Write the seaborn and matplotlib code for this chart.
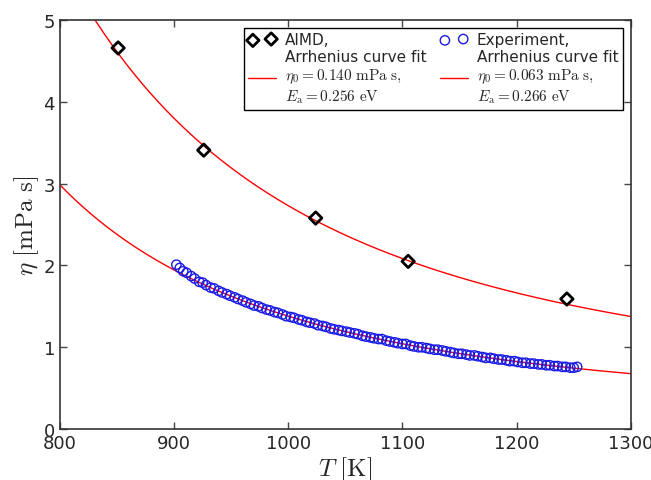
import numpy as np
import matplotlib
matplotlib.use("Agg")
import matplotlib.pyplot as plt
import seaborn as sns

# --- Data ---
aimd_T = [851, 926, 1024, 1105, 1244]
aimd_eta = [4.66, 3.41, 2.58, 2.05, 1.59]

exp_T = [902, 905, 908, 911, 915, 918, 922, 925, 928, 932, 935, 939, 942, 946, 949,
         953, 956, 960, 963, 967, 970, 974, 977, 981, 984, 988, 991, 995, 998,
         1002, 1005, 1009, 1012, 1016, 1019, 1023, 1026, 1030, 1033, 1037, 1040, 1044, 1047,
         1051, 1054, 1058, 1061, 1065, 1068, 1072, 1075, 1079, 1082, 1086, 1089, 1093, 1096,
         1100, 1103, 1107, 1110, 1114, 1117, 1121, 1124, 1128, 1131, 1135, 1138, 1142, 1145, 1149,
         1152, 1156, 1159, 1163, 1166, 1170, 1173, 1177, 1180, 1184, 1187, 1191, 1194, 1198,
         1201, 1205, 1208, 1212, 1215, 1219, 1222, 1226, 1229, 1233, 1236, 1240, 1243, 1247,
         1250, 1253]
exp_eta = [2.01, 1.97, 1.93, 1.91, 1.87, 1.84, 1.80, 1.79, 1.76, 1.73, 1.72, 1.69, 1.67, 1.65, 1.63,
           1.61, 1.59, 1.57, 1.55, 1.53, 1.51, 1.50, 1.48, 1.46, 1.45, 1.43, 1.42, 1.40, 1.38,
           1.37, 1.36, 1.34, 1.33, 1.31, 1.30, 1.29, 1.27, 1.26, 1.25, 1.23, 1.22, 1.21, 1.20,
           1.19, 1.18, 1.17, 1.16, 1.14, 1.13, 1.12, 1.11, 1.10, 1.10, 1.08, 1.07, 1.06, 1.05,
           1.04, 1.04, 1.02, 1.01, 1.00, 1.00, 0.99, 0.98, 0.97, 0.97, 0.96, 0.95, 0.94, 0.93, 0.92,
           0.92, 0.91, 0.90, 0.90, 0.89, 0.88, 0.87, 0.87, 0.86, 0.85, 0.85, 0.84, 0.83, 0.83,
           0.82, 0.81, 0.81, 0.80, 0.80, 0.79, 0.79, 0.78, 0.78, 0.77, 0.77, 0.76, 0.76, 0.75,
           0.75, 0.76]

# Arrhenius fit parameters (eta0 in mPa s, Ea in eV)
aimd_eta0, aimd_Ea = 0.140, 0.256
exp_eta0, exp_Ea = 0.063, 0.266
kB = 8.617e-5

T_grid = np.linspace(800, 1300, 300)
aimd_fit = aimd_eta0 * np.exp(aimd_Ea / (kB * T_grid))
exp_fit = exp_eta0 * np.exp(exp_Ea / (kB * T_grid))

aimd_label = "AIMD,"
aimd_fit_label = ("Arrhenius curve fit\n" + r"$\eta_0=0.140\ \mathrm{mPa\ s},$" + "\n"
                  + r"$E_\mathrm{a}=0.256\ \mathrm{eV}$")
exp_label = "Experiment,"
exp_fit_label = ("Arrhenius curve fit\n" + r"$\eta_0=0.063\ \mathrm{mPa\ s},$" + "\n"
                 + r"$E_\mathrm{a}=0.266\ \mathrm{eV}$")

# --- Plot ---
sns.set_style("ticks", {"xtick.direction": "in", "ytick.direction": "in"})
plt.rcParams['font.family'] = ['DejaVu Sans']
plt.rcParams['mathtext.fontset'] = 'cm'

fig = plt.figure(figsize=(6.51, 4.81), dpi=100)
ax = fig.add_axes([0.092, 0.106, 0.877, 0.85])

sns.lineplot(x=T_grid, y=aimd_fit, color='red', linewidth=1, ax=ax, label=aimd_fit_label)
sns.lineplot(x=T_grid, y=exp_fit, color='red', linewidth=1, ax=ax, label=exp_fit_label)
sns.scatterplot(x=aimd_T, y=aimd_eta, marker='D', s=40, facecolor='none',
                edgecolor='black', linewidth=2, ax=ax, zorder=3, label=aimd_label)
sns.scatterplot(x=exp_T, y=exp_eta, marker='o', s=45, facecolor='none',
                edgecolor='#1a1ae6', linewidth=1, ax=ax, zorder=3, label=exp_label)

h, l = ax.get_legend_handles_labels()
lookup = dict(zip(l, h))
order = [aimd_label, aimd_fit_label, exp_label, exp_fit_label]
leg = ax.legend([lookup[k] for k in order], order, ncol=2, loc='upper right', fontsize=11,
                scatterpoints=2, fancybox=False, framealpha=1,
                borderaxespad=0.5, handlelength=1.8, columnspacing=0.9,
                labelspacing=0.1, handletextpad=0.6, borderpad=0.3)
leg.get_frame().set_edgecolor('black')
leg.get_frame().set_linewidth(1.0)

ax.set_xlim(800, 1300)
ax.set_ylim(0, 5)
ax.set_xticks([800, 900, 1000, 1100, 1200, 1300])
ax.set_yticks([0, 1, 2, 3, 4, 5])
ax.tick_params(top=True, right=True, labelsize=13, length=5, width=1, color='#444444')
for s in ax.spines.values():
    s.set_color('#333333')
    s.set_linewidth(1.2)
ax.set_xlabel(r"$T\ [\mathrm{K}]$", fontsize=18, labelpad=2)
ax.set_ylabel(r"$\eta\ [\mathrm{mPa\ s}]$", fontsize=18, labelpad=2)

fig.savefig("out.png", dpi=100)
